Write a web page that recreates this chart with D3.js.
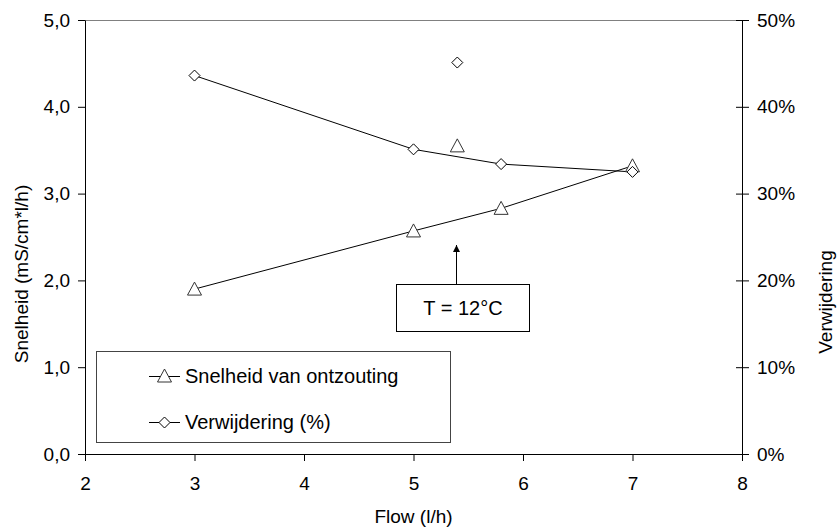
<!DOCTYPE html>
<html>
<head>
<meta charset="utf-8">
<script src="https://cdn.jsdelivr.net/npm/d3@7"></script>
<style>
  html, body { margin: 0; padding: 0; background: #fff; }
  svg { display: block; font-family: "Liberation Sans", Arial, sans-serif; }
</style>
</head>
<body>
<svg id="chart" width="839" height="530"></svg>
<script>
// ---- data ----
const flow = [3, 5, 5.8, 7];
const snelheid = [1.90, 2.57, 2.83, 3.32];
const verwijdering = [0.436, 0.351, 0.334, 0.325];
const flowLos = [5.4];
const snelheidLos = [3.55];
const verwijderingLos = [0.451];
const xTicks = [2, 3, 4, 5, 6, 7, 8];
const yTicks = [0, 1, 2, 3, 4, 5];
const y2Ticks = [0, 0.1, 0.2, 0.3, 0.4, 0.5];
const seriesNames = ["Snelheid van ontzouting", "Verwijdering (%)"];
const xTitle = "Flow (l/h)";
const yTitle = "Snelheid (mS/cm*l/h)";
const y2Title = "Verwijdering";
const note = "T = 12°C";

// ---- layout ----
const L = 85, R = 742, T = 20, B = 454;
const FS = 19;
const svg = d3.select("#chart");
const x = d3.scaleLinear().domain([2, 8]).range([L, R]);
const y = d3.scaleLinear().domain([0, 5]).range([B, T]);
const y2 = d3.scaleLinear().domain([0, 0.5]).range([B, T]);

// top border
svg.append("line").attr("x1", L).attr("x2", R).attr("y1", T + 0.5).attr("y2", T + 0.5)
  .attr("stroke", "#808080");

function styleAxis(g) {
  g.selectAll("path").attr("stroke", "#000");
  g.selectAll("line").attr("stroke", "#000");
  g.selectAll("text").attr("font-size", FS).attr("fill", "#000")
    .attr("font-family", "Liberation Sans, Arial, sans-serif");
}

// x axis
const gx = svg.append("g").attr("transform", `translate(0,${B})`)
  .call(d3.axisBottom(x).tickValues(xTicks).tickFormat(d3.format("d")).tickSize(7).tickSizeOuter(0).tickPadding(16));
styleAxis(gx);

// left y axis
const fmtComma = d => d3.format(".1f")(d).replace(".", ",");
const gy = svg.append("g").attr("transform", `translate(${L},0)`)
  .call(d3.axisLeft(y).tickValues(yTicks).tickFormat(fmtComma).tickSize(7).tickSizeOuter(0).tickPadding(8));
styleAxis(gy);

// right y axis (cross ticks)
const gy2 = svg.append("g").attr("transform", `translate(${R},0)`)
  .call(d3.axisRight(y2).tickValues(y2Ticks).tickFormat(d3.format(".0%")).tickSize(7).tickSizeOuter(0).tickPadding(8));
gy2.selectAll(".tick line").attr("x1", -6);
styleAxis(gy2);

// axis titles
svg.append("text").attr("x", (L + R) / 2).attr("y", 523).attr("text-anchor", "middle")
  .attr("font-size", FS).text(xTitle);
svg.append("text").attr("transform", `translate(28,274) rotate(-90)`).attr("text-anchor", "middle")
  .attr("font-size", FS).text(yTitle);
svg.append("text").attr("transform", `translate(832,302) rotate(-90)`).attr("text-anchor", "middle")
  .attr("font-size", FS).text(y2Title);

// markers
const triPath = (cx, cy) => `M${cx},${cy - 7}L${cx + 7},${cy + 6}L${cx - 7},${cy + 6}Z`;
const diaPath = (cx, cy) => `M${cx},${cy - 5.5}L${cx + 5.5},${cy}L${cx},${cy + 5.5}L${cx - 5.5},${cy}Z`;

const line1 = d3.line().x(d => x(d[0])).y(d => y(d[1]));
const line2 = d3.line().x(d => x(d[0])).y(d => y2(d[1]));
const s1 = flow.map((f, i) => [f, snelheid[i]]);
const s2 = flow.map((f, i) => [f, verwijdering[i]]);

svg.append("path").attr("d", line1(s1)).attr("fill", "none").attr("stroke", "#000").attr("stroke-width", 1);
svg.append("path").attr("d", line2(s2)).attr("fill", "none").attr("stroke", "#000").attr("stroke-width", 1);

const s1Los = flowLos.map((f, i) => [f, snelheidLos[i]]);
const s2Los = flowLos.map((f, i) => [f, verwijderingLos[i]]);

svg.selectAll(".tri").data(s1.concat(s1Los)).enter().append("path")
  .attr("d", d => triPath(x(d[0]), y(d[1])))
  .attr("fill", "#fff").attr("stroke", "#333").attr("stroke-width", 1);
svg.selectAll(".dia").data(s2.concat(s2Los)).enter().append("path")
  .attr("d", d => diaPath(x(d[0]), y2(d[1])))
  .attr("fill", "#fff").attr("stroke", "#000").attr("stroke-width", 1);

// legend
svg.append("rect").attr("x", 96.5).attr("y", 351.5).attr("width", 354).attr("height", 91)
  .attr("fill", "#fff").attr("stroke", "#444").attr("stroke-width", 1);
const legY = [376, 422];
seriesNames.forEach((name, i) => {
  svg.append("line").attr("x1", 149).attr("x2", 180).attr("y1", legY[i] + 0.5).attr("y2", legY[i] + 0.5)
    .attr("stroke", "#000");
  svg.append("path").attr("d", i === 0 ? triPath(164.5, legY[i]) : diaPath(164.5, legY[i] + 0.5))
    .attr("fill", "#fff").attr("stroke", i === 0 ? "#333" : "#000");
  svg.append("text").attr("x", 185).attr("y", legY[i]).attr("dy", "0.35em")
    .attr("font-size", 20).text(name);
});

// annotation
svg.append("defs").append("marker").attr("id", "arr").attr("viewBox", "0 0 10 10")
  .attr("refX", 10).attr("refY", 5).attr("markerWidth", 7).attr("markerHeight", 7)
  .attr("markerUnits", "userSpaceOnUse").attr("orient", "auto")
  .append("path").attr("d", "M0,0L10,5L0,10Z").attr("fill", "#000");
svg.append("line").attr("x1", 456.5).attr("x2", 456.5).attr("y1", 285).attr("y2", 245)
  .attr("stroke", "#000").attr("marker-end", "url(#arr)");
svg.append("rect").attr("x", 396.5).attr("y", 284.5).attr("width", 133).attr("height", 47)
  .attr("fill", "#fff").attr("stroke", "#000");
svg.append("text").attr("x", 463).attr("y", 308).attr("dy", "0.35em").attr("text-anchor", "middle")
  .attr("font-size", 20).text(note);
</script>
</body>
</html>
